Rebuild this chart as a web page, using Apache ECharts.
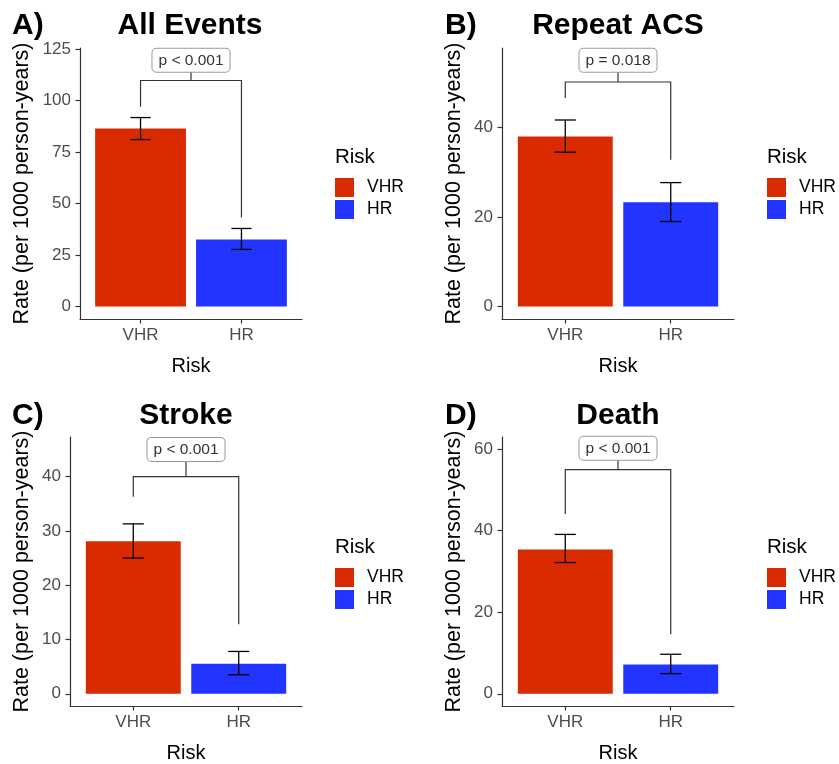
<!DOCTYPE html>
<html>
<head>
<meta charset="utf-8">
<script src="https://cdn.jsdelivr.net/npm/echarts@6/dist/echarts.min.js"></script>
<style>
html,body{margin:0;padding:0;background:#fff;}
#chart{width:839px;height:764px;}
</style>
</head>
<body>
<div id="chart"></div>
<script>
// ---- data ----
const categories = ['VHR', 'HR'];
const panelTitles = ['All Events', 'Repeat ACS', 'Stroke', 'Death'];
const panelLetters = ['A)', 'B)', 'C)', 'D)'];
const rateVHR = [86.5, 38.0, 28.1, 35.4];
const rateHR = [32.5, 23.3, 5.55, 7.2];
const lowVHR = [81.1, 34.5, 25.0, 32.2];
const highVHR = [91.8, 41.7, 31.3, 39.1];
const lowHR = [27.7, 19.0, 3.5, 4.95];
const highHR = [37.9, 27.7, 7.8, 9.7];
const pLabels = ['p < 0.001', 'p = 0.018', 'p < 0.001', 'p < 0.001'];
const bracketY = [109.8, 50.2, 40.0, 55.0];
const bracketLegVHR = [97.0, 46.6, 36.3, 44.1];
const bracketLegHR = [43.2, 32.8, 12.8, 14.6];
const bracketLabelBase = [114.1, 52.5, 42.9, 57.4];
const yTicks = [[0, 25, 50, 75, 100, 125], [0, 20, 40], [0, 10, 20, 30, 40], [0, 20, 40, 60]];
const yMin = [-6.1, -2.8, -2.25, -3.0];
const yMax = [125.6, 57.8, 47.3, 63.0];
const xTicks = [1, 2];

// ---- layout / style ----
const FONT = "'Liberation Sans', Arial, Helvetica, sans-serif";
const RED = '#DA2A00';
const BLUE = '#2234FF';
const grids = [
  {left: 80, top: 48, width: 222, height: 271},
  {left: 502, top: 48, width: 232, height: 271},
  {left: 70, top: 437, width: 232, height: 271},
  {left: 502, top: 437, width: 232, height: 271}
];
const yNameGap = [47, 37, 37, 37];
const titlePos = [[190, 26], [618, 26], [186, 416], [618, 416]];
const letterPos = [[12, 26], [445, 26], [12, 416], [445, 416]];
const legendPos = [[335, 157], [767, 157], [335, 547], [767, 547]];

const chart = echarts.init(document.getElementById('chart'));

const xAxes = [], yAxes = [], series = [], legends = [], graphics = [];

function barRender(params, api) {
  const x = api.value(0), v = api.value(1);
  const p1 = api.coord([x - 0.45, v]);
  const p2 = api.coord([x + 0.45, 0]);
  return {
    type: 'rect',
    shape: {x: p1[0], y: p1[1], width: p2[0] - p1[0], height: p2[1] - p1[1]},
    style: {fill: api.visual('color')}
  };
}

function errRender(params, api) {
  const x = api.value(0), lo = api.value(1), hi = api.value(2);
  const top = api.coord([x, hi]), bot = api.coord([x, lo]);
  const l = api.coord([x - 0.1, hi])[0], r = api.coord([x + 0.1, hi])[0];
  const st = {stroke: '#000', lineWidth: 1.3};
  return {
    type: 'group',
    children: [
      {type: 'line', shape: {x1: top[0], y1: top[1], x2: bot[0], y2: bot[1]}, style: st},
      {type: 'line', shape: {x1: l, y1: top[1], x2: r, y2: top[1]}, style: st},
      {type: 'line', shape: {x1: l, y1: bot[1], x2: r, y2: bot[1]}, style: st}
    ]
  };
}

function makeBracketRender(i) {
  return function (params, api) {
    const y = api.value(1), leg1 = api.value(2), leg2 = api.value(3), base = api.value(4);
    const a = api.coord([1, leg1]);
    const b = api.coord([1, y]);
    const c = api.coord([2, y]);
    const d = api.coord([2, leg2]);
    const m = api.coord([1.5, y]);
    const t = api.coord([1.5, base]);
    const st = {stroke: '#333', lineWidth: 1.2, fill: null};
    return {
      type: 'group',
      children: [
        {type: 'polyline', shape: {points: [a, b, c, d]}, style: st},
        {type: 'line', shape: {x1: m[0], y1: m[1], x2: t[0], y2: t[1]}, style: st},
        {type: 'text', x: t[0], y: t[1],
          style: {text: pLabels[i], font: '15.5px ' + FONT, fill: '#333', align: 'center', verticalAlign: 'bottom',
            backgroundColor: '#fff', borderColor: '#999', borderWidth: 1, borderRadius: 4, padding: [4, 6, 3, 6]}}
      ]
    };
  };
}

for (let i = 0; i < 4; i++) {
  xAxes.push({
    type: 'value', gridIndex: i, min: 0.4, max: 2.6,
    splitLine: {show: false},
    axisLine: {onZero: false, lineStyle: {color: '#333', width: 1.2}},
    axisTick: {show: true, length: 4.5, customValues: xTicks, lineStyle: {color: '#333', width: 1.2}},
    axisLabel: {customValues: xTicks, formatter: v => categories[Math.round(v) - 1], fontSize: 17, color: '#4D4D4D', fontFamily: FONT, margin: 8},
    name: 'Risk', nameLocation: 'middle', nameGap: 37,
    nameTextStyle: {fontSize: 20, color: '#000', fontFamily: FONT}
  });
  yAxes.push({
    type: 'value', gridIndex: i, min: yMin[i], max: yMax[i],
    splitLine: {show: false},
    axisLine: {show: true, onZero: false, lineStyle: {color: '#333', width: 1.2}},
    axisTick: {show: true, length: 4.5, customValues: yTicks[i], lineStyle: {color: '#333', width: 1.2}},
    axisLabel: {customValues: yTicks[i], fontSize: 17, color: '#4D4D4D', fontFamily: FONT, margin: 9},
    name: 'Rate (per 1000 person-years)', nameLocation: 'middle', nameGap: yNameGap[i], nameRotate: 90,
    nameTextStyle: {fontSize: 21.5, color: '#000', fontFamily: FONT}
  });
  series.push({
    name: 'VHR', type: 'custom', xAxisIndex: i, yAxisIndex: i,
    itemStyle: {color: RED}, renderItem: barRender,
    encode: {x: 0, y: 1}, data: [[1, rateVHR[i]]], silent: true
  });
  series.push({
    name: 'HR', type: 'custom', xAxisIndex: i, yAxisIndex: i,
    itemStyle: {color: BLUE}, renderItem: barRender,
    encode: {x: 0, y: 1}, data: [[2, rateHR[i]]], silent: true
  });
  series.push({
    name: 'err' + i, type: 'custom', xAxisIndex: i, yAxisIndex: i,
    renderItem: errRender, encode: {x: 0, y: [1, 2]},
    data: [[1, lowVHR[i], highVHR[i]], [2, lowHR[i], highHR[i]]], silent: true, z: 3
  });
  series.push({
    name: 'bracket' + i, type: 'custom', xAxisIndex: i, yAxisIndex: i,
    renderItem: makeBracketRender(i), encode: {x: 0, y: 1},
    data: [[1.5, bracketY[i], bracketLegVHR[i], bracketLegHR[i], bracketLabelBase[i]]], silent: true, z: 4
  });
  legends.push({
    data: categories, orient: 'vertical', left: legendPos[i][0], top: legendPos[i][1] + 21,
    padding: 0, icon: 'rect', itemWidth: 19, itemHeight: 19, itemGap: 3, selectedMode: false,
    textStyle: {fontSize: 17.5, color: '#000', fontFamily: FONT, padding: [0, 0, 0, 8]}
  });
  graphics.push({type: 'text', x: titlePos[i][0], y: titlePos[i][1],
    style: {text: panelTitles[i], font: 'bold 30px ' + FONT, fill: '#000', align: 'center', verticalAlign: 'middle'}});
  graphics.push({type: 'text', x: letterPos[i][0], y: letterPos[i][1],
    style: {text: panelLetters[i], font: 'bold 30px ' + FONT, fill: '#000', align: 'left', verticalAlign: 'middle'}});
  graphics.push({type: 'text', x: legendPos[i][0], y: legendPos[i][1],
    style: {text: 'Risk', font: '20.5px ' + FONT, fill: '#000', align: 'left', verticalAlign: 'middle'}});
}

chart.setOption({
  animation: false,
  grid: grids,
  xAxis: xAxes,
  yAxis: yAxes,
  series: series,
  legend: legends,
  graphic: graphics
});
</script>
</body>
</html>
